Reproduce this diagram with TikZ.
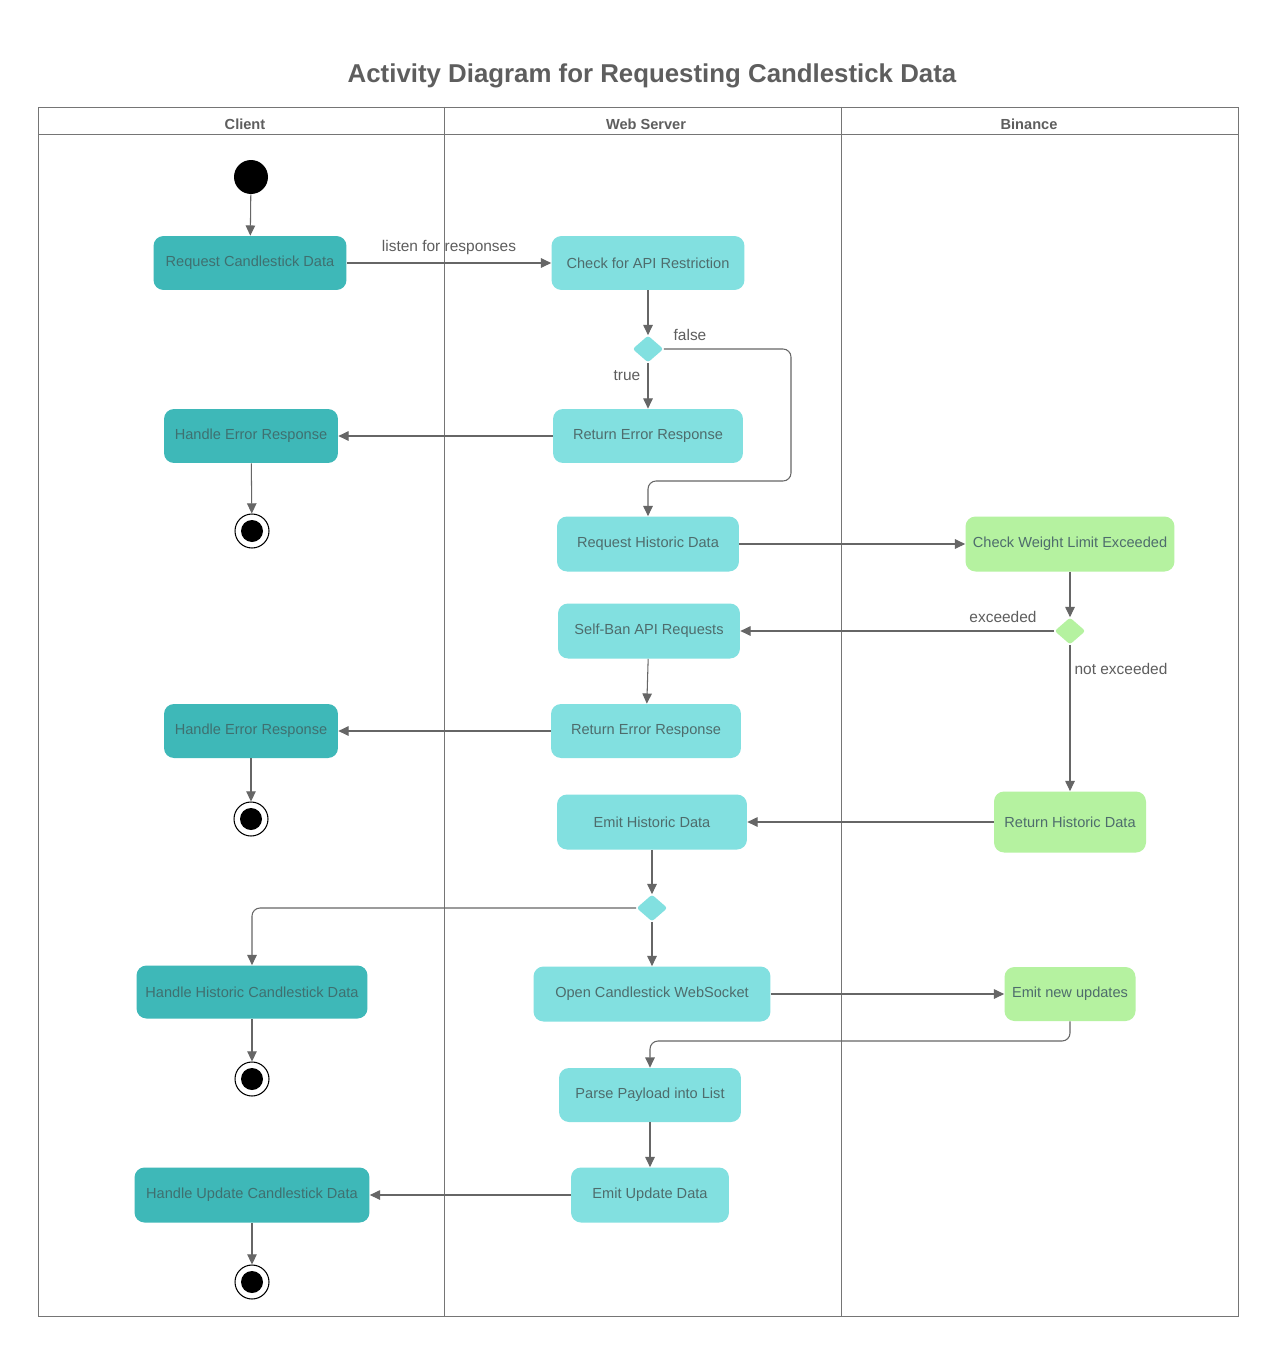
\documentclass[tikz,border=0pt]{standalone}
\usepackage{fontspec}
\setmainfont{Liberation Sans}
\usetikzlibrary{shapes.geometric,arrows.meta}

\definecolor{clientcol}{HTML}{3EB8B8}
\definecolor{servercol}{HTML}{82E0E0}
\definecolor{binancecol}{HTML}{B5F2A0}
\definecolor{linecol}{HTML}{666666}
\definecolor{textcol}{HTML}{4E6C6C}
\definecolor{titlecol}{HTML}{5E5E5E}

\tikzset{
  act/.style={rounded corners=0.2cm, inner sep=0pt, align=center,
    text=textcol, font=\fontsize{8.3}{10}\selectfont},
  clientact/.style={act, fill=clientcol, text=textcol!80!teal},
  serveract/.style={act, fill=servercol},
  binanceact/.style={act, fill=binancecol},
  decision/.style={diamond, inner sep=0pt, minimum width=0.62cm,
    minimum height=0.54cm, rounded corners=1.5pt},
  startnode/.style={circle, fill=black, minimum size=0.68cm, inner sep=0pt},
  endnode/.style={circle, draw=black, line width=0.6pt, minimum size=0.68cm,
    inner sep=0pt, path picture={\fill[black] (path picture bounding box.center) circle (0.22cm);}},
  flow/.style={draw=linecol, line width=0.6pt, rounded corners=0.16cm,
    -{Triangle[length=5.8pt,width=5.4pt]}},
  lbl/.style={text=titlecol, font=\fontsize{8.8}{10}\selectfont},
  lane/.style={draw=linecol!90, line width=0.5pt},
  lanehead/.style={text=titlecol, font=\bfseries\fontsize{8.3}{10}\selectfont}
}

\begin{document}
\begin{tikzpicture}[x=0.02cm,y=-0.02cm]
 \useasboundingbox[fill=white] (0,0) rectangle (1279,1355);

 % title and swimlanes
 \node[text=titlecol, font=\bfseries\fontsize{14.7}{17}\selectfont] (title) at (652,76) {Activity Diagram for Requesting Candlestick Data};
 \draw[lane] (38,107) rectangle (1238,1316);
 \draw[lane] (38,134) -- (1238,134);
 \draw[lane] (444,107) -- (444,1316);
 \draw[lane] (841,107) -- (841,1316);
 \node[lanehead] (hclient) at (245,124) {Client};
 \node[lanehead] (hserver) at (646,124) {Web Server};
 \node[lanehead] (hbinance) at (1029,124) {Binance};

 % client lane
 \node[startnode] (start) at (251,177) {};
 \node[clientact, minimum width=3.86cm, minimum height=1.08cm] (reqCandle) at (250,263) {Request Candlestick Data};
 \node[clientact, minimum width=3.48cm, minimum height=1.08cm] (handleErrA) at (251,436) {Handle Error Response};
 \node[endnode] (endA) at (252,531) {};
 \node[clientact, minimum width=3.48cm, minimum height=1.08cm] (handleErrB) at (251,731) {Handle Error Response};
 \node[endnode] (endB) at (251,819) {};
 \node[clientact, minimum width=4.62cm, minimum height=1.06cm] (handleHist) at (252,992) {Handle Historic Candlestick Data};
 \node[endnode] (endC) at (252,1079) {};
 \node[clientact, minimum width=4.70cm, minimum height=1.10cm] (handleUpd) at (252,1195) {Handle Update Candlestick Data};
 \node[endnode] (endD) at (252,1282) {};

 % web server lane
 \node[serveract, minimum width=3.86cm, minimum height=1.08cm] (checkAPI) at (648,263) {Check for API Restriction};
 \node[serveract, decision] (decAPI) at (648,349) {};
 \node[serveract, minimum width=3.80cm, minimum height=1.08cm] (retErrA) at (648,436) {Return Error Response};
 \node[serveract, minimum width=3.64cm, minimum height=1.10cm] (reqHist) at (648,544) {Request Historic Data};
 \node[serveract, minimum width=3.64cm, minimum height=1.10cm] (selfBan) at (649,631) {Self-Ban API Requests};
 \node[serveract, minimum width=3.80cm, minimum height=1.08cm] (retErrB) at (646,731) {Return Error Response};
 \node[serveract, minimum width=3.80cm, minimum height=1.10cm] (emitHist) at (652,822) {Emit Historic Data};
 \node[serveract, decision] (decHist) at (652,908) {};
 \node[serveract, minimum width=4.74cm, minimum height=1.10cm] (openWS) at (652,994) {Open Candlestick WebSocket};
 \node[serveract, minimum width=3.64cm, minimum height=1.08cm] (parse) at (650,1095) {Parse Payload into List};
 \node[serveract, minimum width=3.16cm, minimum height=1.10cm] (emitUpd) at (650,1195) {Emit Update Data};

 % binance lane
 \node[binanceact, minimum width=4.18cm, minimum height=1.10cm] (checkWeight) at (1070,544) {Check Weight Limit Exceeded};
 \node[binanceact, decision] (decWeight) at (1070,631) {};
 \node[binanceact, minimum width=3.04cm, minimum height=1.22cm] (retHist) at (1070,822) {Return Historic Data};
 \node[binanceact, minimum width=2.62cm, minimum height=1.08cm] (emitNew) at (1070,994) {Emit new updates};

 % turning points
 \coordinate (falseTurn) at (791,481);
 \coordinate (updTurn) at (1070,1041);

 % connectors
 \draw[flow] (start) -- (reqCandle);
 \draw[flow] (reqCandle) -- (checkAPI);
 \node[lbl] (listenLbl) at (449,248) {listen for responses};
 \draw[flow] (checkAPI) -- (decAPI);
 \draw[flow] (decAPI) -- (retErrA);
 \node[lbl] (trueLbl) at (627,376) {true};
 \draw[flow] (decAPI.east) -| (falseTurn) -| (reqHist.north);
 \node[lbl] (falseLbl) at (690,335) {false};
 \draw[flow] (retErrA) -- (handleErrA);
 \draw[flow] (handleErrA) -- (endA);
 \draw[flow] (reqHist) -- (checkWeight);
 \draw[flow] (checkWeight) -- (decWeight);
 \draw[flow] (decWeight) -- (selfBan);
 \node[lbl] (exceedLbl) at (1003,617) {exceeded};
 \draw[flow] (decWeight) -- (retHist);
 \node[lbl] (notExceedLbl) at (1121,669) {not exceeded};
 \draw[flow] (selfBan) -- (retErrB);
 \draw[flow] (retErrB) -- (handleErrB);
 \draw[flow] (handleErrB) -- (endB);
 \draw[flow] (retHist) -- (emitHist);
 \draw[flow] (emitHist) -- (decHist);
 \draw[flow] (decHist.west) -| (handleHist.north);
 \draw[flow] (decHist) -- (openWS);
 \draw[flow] (handleHist) -- (endC);
 \draw[flow] (openWS) -- (emitNew);
 \draw[flow] (emitNew.south) -- (updTurn) -| (parse.north);
 \draw[flow] (parse) -- (emitUpd);
 \draw[flow] (emitUpd) -- (handleUpd);
 \draw[flow] (handleUpd) -- (endD);
\end{tikzpicture}
\end{document}
